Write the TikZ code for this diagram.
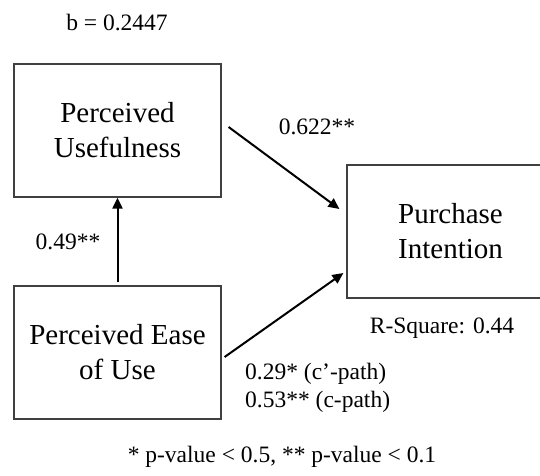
\documentclass[tikz,border=0pt]{standalone}
\usepackage{fontspec}
\setmainfont{Liberation Serif}
\usetikzlibrary{arrows.meta}
\begin{document}
\begin{tikzpicture}[x=1pt,y=-1pt,
  box/.style={draw=black!75, line width=1.2pt, minimum width=207pt, minimum height=133pt, inner sep=0pt, align=center, font=\fontsize{29}{35}\selectfont},
  lbl/.style={inner sep=0pt, font=\fontsize{23.5}{28}\selectfont},
  arr/.style={line width=2pt, -{Triangle[length=11pt,width=10pt]}}]
\useasboundingbox (0,0) rectangle (540,475);
\clip (0,0) rectangle (540,475);
\node[box] (pu) at (117.5,130.5) {Perceived\\Usefulness};
\node[box] (peu) at (117.5,352.5) {Perceived Ease\\of Use};
\node[box] (pi) at (450.5,231.5) {Purchase\\Intention};
\node[lbl] (b) at (117,23) {b = 0.2447};
\node[lbl] (l1) at (317,127) {0.622**};
\node[lbl] (l2) at (68,242) {0.49**};
\node[lbl] (rsq) at (442,328) {R-Square: 0.44};
\node[lbl, anchor=west, align=left] (l3) at (245,388) {0.29* (c’-path)\\0.53** (c-path)};
\node[lbl] (fn) at (282,457) {* p-value < 0.5, ** p-value < 0.1};
\draw[arr] ([xshift=7pt,yshift=3.5pt]pu.east) -- ([xshift=-7pt,yshift=22.5pt]pi.west);
\draw[arr] ([xshift=3pt,yshift=-4.5pt]peu.east) -- ([xshift=-3pt,yshift=-41.5pt]pi.west);
\draw[arr, shorten <=3pt] (peu.north) -- (pu.south);
\end{tikzpicture}
\end{document}
